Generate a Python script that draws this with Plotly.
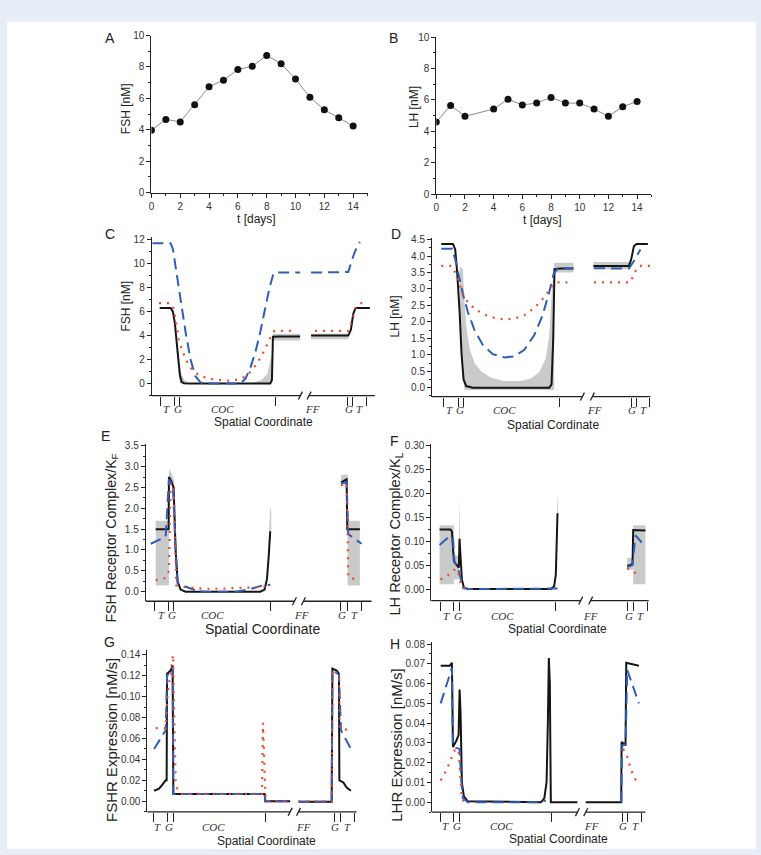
import plotly.graph_objects as go

FONT = "Arial, Liberation Sans, sans-serif"
SERIF = "Liberation Serif, Times New Roman, serif"
BLACK = "#151515"
BLUE = "#2f5db8"
RED = "#ee4a2c"
GRAY = "#c9cbcb"

# ---------------- data: panels A and B ----------------
A_t = list(range(15))
A_fsh = [3.97, 4.66, 4.5, 5.59, 6.74, 7.16, 7.84, 8.05, 8.74, 8.21, 7.23, 6.07, 5.27, 4.77, 4.24]
B_t = [0, 1, 2, 4, 5, 6, 7, 8, 9, 10, 11, 12, 13, 14]
B_lh = [4.59, 5.65, 4.96, 5.42, 6.05, 5.68, 5.8, 6.16, 5.8, 5.8, 5.42, 4.96, 5.57, 5.9]

region_names = ["T", "G", "COC", "FF", "G", "T"]

# ---------------- panel C (FSH) ----------------
C_ticks = [9, 23.3, 28, 124, 196.7, 201.3, 215.7]
C_label_s = [15, 26, 71.3, 161.3, 198, 209]
C_break = [149.3, 158]
C_black_s = [8, 19, 21.3, 23.3, 25, 26.7, 28.3, 30, 32.3, 37.3, 119, 120.7, 121.7, 127.3, 149, None,
             160, 197.3, 200, 202.3, 204.7, 219]
C_black_y = [6.3, 6.3, 6.0, 5.0, 3.5, 2.0, 0.7, 0.15, 0.02, 0, 0, 0.3, 3.9, 3.92, 3.92, None,
             4.0, 4.0, 4.5, 5.8, 6.3, 6.3]
C_blue_s = [0.7, 19, 21.3, 24.7, 29, 34, 39, 44, 49, 54, 89, 94, 99, 104, 109, 114, 118.3, 122.3, 127.3, 149, None,
            160, 197.3, 200.7, 204, 209]
C_blue_y = [11.7, 11.7, 11.2, 9.5, 7.0, 4.3, 2.0, 0.6, 0.1, 0, 0, 0.4, 1.3, 2.6, 4.3, 6.3, 8.0, 9.2, 9.25, 9.25, None,
            9.25, 9.3, 10.2, 11.0, 11.8]
C_red_s = [7.3, 19, 22.3, 24.7, 27.3, 31.3, 35.7, 40.7, 47.3, 55.7, 65.7, 77.3, 87.3, 94, 100.7, 107.3, 114, 119, 123.3, 142.3, None,
           164, 197.3, 201.3, 204.7, 209, 214]
C_red_y = [6.7, 6.7, 6.2, 4.8, 3.6, 2.6, 1.8, 1.15, 0.7, 0.45, 0.3, 0.25, 0.35, 0.6, 1.1, 1.9, 2.9, 3.8, 4.4, 4.4, None,
           4.4, 4.4, 5.3, 6.3, 6.7, 6.7]
C_bands = [
    ([28, 30, 33, 38], [0, 0, 0, 0], [1.5, 0.8, 0.3, 0.05]),
    ([100, 110, 116, 120.7], [0, 0, 0, 0], [0.05, 0.3, 0.8, 2.5]),
    ([121.7, 149], [3.6, 3.6], [4.15, 4.15]),
    ([160, 197.3], [3.7, 3.7], [4.15, 4.15]),
]

# ---------------- panel D (LH) ----------------
D_ticks = [12, 26.7, 31.3, 127.7, 200, 205.3, 218.7]
D_label_s = [17.7, 28, 72.7, 163.3, 201, 212.7]
D_break = [151, 161]
D_black_s = [9.3, 21, 23.3, 25.3, 27.7, 29.7, 31.7, 34.3, 41, 117.7, 120, 121.7, 123, 129.3, 142, None,
             162, 197.7, 200, 202.7, 205.3, 216.7]
D_black_y = [4.37, 4.37, 4.2, 3.5, 2.3, 1.0, 0.25, 0.05, 0.0, 0.0, 0.1, 1.5, 3.6, 3.62, 3.62, None,
             3.7, 3.7, 3.9, 4.3, 4.37, 4.37]
D_blue_s = [9.3, 20.3, 23.3, 26.7, 31, 36, 42.7, 51, 61, 72.7, 82.7, 92.7, 102.7, 111, 117.7, 122, 126, 142, None,
            162.7, 197.7, 202.7, 209.3]
D_blue_y = [4.22, 4.22, 3.9, 3.45, 2.85, 2.3, 1.75, 1.3, 1.02, 0.92, 0.95, 1.15, 1.6, 2.2, 2.9, 3.45, 3.62, 3.63, None,
            3.63, 3.62, 3.85, 4.2]
D_red_s = [9.3, 20, 23.3, 26.7, 31, 36, 42.7, 52.7, 62.7, 72.7, 82.7, 92.7, 102.7, 112.7, 119.3, 124.3, 142, None,
           162.7, 199.3, 203.3, 207.7, 219.3]
D_red_y = [3.7, 3.7, 3.5, 3.2, 2.85, 2.6, 2.4, 2.22, 2.12, 2.07, 2.1, 2.2, 2.42, 2.75, 3.05, 3.2, 3.2, None,
           3.2, 3.2, 3.5, 3.7, 3.7]
D_bands = [
    ([27.7, 29.7, 31, 32.7, 34.3, 37.7, 42.7, 49.3, 59.3, 72.7, 89.3, 99.3, 107.7, 114.3, 117.7, 120, 122.7],
     [2.3, 1.0, 0.3, -0.07, -0.07, -0.07, -0.07, -0.07, -0.07, -0.07, -0.07, -0.07, -0.07, -0.07, -0.07, -0.07, -0.07],
     [3.7, 3.65, 3.6, 2.6, 1.9, 1.2, 0.75, 0.5, 0.3, 0.2, 0.2, 0.28, 0.48, 0.9, 1.6, 2.8, 3.8]),
    ([122.7, 142], [3.5, 3.5], [3.8, 3.8]),
    ([162, 197.7], [3.6, 3.6], [3.82, 3.82]),
]

# ---------------- panel E (FSH receptor complex) ----------------
E_ticks = [9.3, 23.3, 28.3, 125, 196, 202.7, 216.7]
E_label_s = [16, 26, 66.7, 156.7, 196.7, 210]
E_break = [149.3, 158.3]
E_black_s = [10, 23, 23.3, 25.7, 28, 30, 32, 35, 40, 115, 119.3, 121.7, 123.3, 125, None,
             196, 201, 201.7, 202.3, 215]
E_black_y = [1.5, 1.5, 2.75, 2.65, 2.5, 1.0, 0.25, 0.05, 0.0, 0.0, 0.05, 0.3, 0.8, 1.45, None,
             2.62, 2.68, 2.7, 1.5, 1.5]
E_blue_s = [5, 10, 20, 23.3, 27.3, 30, 32, 36.7, 43.3, 51.7, 60, 90, 103.3, 113.3, 120, 125, None,
            196, 201.7, 203.3, 216.7]
E_blue_y = [1.15, 1.2, 1.32, 2.7, 2.55, 1.0, 0.2, 0.15, 0.1, 0.02, 0.0, 0.0, 0.05, 0.13, 0.17, 0.16, None,
            2.6, 2.62, 1.38, 1.15]
E_red_s = [10, 20, 23.3, 23.7, 25, 28, 29.3, 30.7, 36.7, 46.7, 56.7, 73.3, 90, 106.7, 123.3, None,
           196, 201.7, 202.7, 203.3, 210]
E_red_y = [0.27, 0.33, 0.5, 1.35, 2.6, 2.5, 1.0, 0.15, 0.12, 0.1, 0.07, 0.07, 0.08, 0.1, 0.13, None,
           2.55, 2.6, 1.45, 0.35, 0.3]
E_bands = [
    ([10, 23.3], [0.15, 0.15], [1.7, 1.7]),
    ([202.7, 215], [0.15, 0.15], [1.7, 1.7]),
    ([23.3, 25.7, 28.3], [2.6, 2.55, 2.4], [2.95, 2.85, 2.7]),
    ([123.3, 125, 126], [0.6, 1.3, 1.5], [1.2, 2.05, 1.9]),
    ([196, 202.7], [2.55, 2.6], [2.8, 2.82]),
]

# ---------------- panel F (LH receptor complex) ----------------
F_ticks = [9.3, 22.7, 28.3, 125, 196.7, 202.7, 216.7]
F_label_s = [15, 26.7, 71.7, 160, 198.3, 210]
F_break = [150, 160]
F_black_s = [8.3, 19.3, 20.7, 22, 22.7, 26.7, 27.7, 28.3, 29.3, 30.7, 32.7, 36.7, 120, 123.3, 125, 126.7, None,
             196.7, 202, 202.7, 215]
F_black_y = [0.124, 0.124, 0.12, 0.065, 0.058, 0.047, 0.045, 0.105, 0.07, 0.02, 0.003, 0.0, 0.0, 0.006, 0.03, 0.158, None,
             0.048, 0.052, 0.123, 0.122]
F_blue_s = [8.3, 18.3, 21.7, 23.3, 26.7, 29.3, 31.7, 36.7, 126.7, None, 196.7, 202, 205, 211.7]
F_blue_y = [0.092, 0.11, 0.108, 0.055, 0.045, 0.02, 0.003, 0.0, 0.001, None, 0.046, 0.05, 0.112, 0.096]
F_red_s = [9.3, 16, 22.7, 26.7, 28.3, 30.7, 35, None, 196.7, 202.3, 206.7]
F_red_y = [0.02, 0.027, 0.04, 0.04, 0.02, 0.003, 0.0, None, 0.043, 0.038, 0.03]
F_bands = [
    ([8.3, 22.7], [0.01, 0.01], [0.133, 0.133]),
    ([202.7, 215], [0.01, 0.01], [0.133, 0.133]),
    ([196.7, 202.7], [0.04, 0.04], [0.065, 0.065]),
    ([22.7, 27.7], [0.02, 0.02], [0.07, 0.07]),
    ([27.7, 28.3, 29.3], [0.05, 0.1, 0.05], [0.07, 0.19, 0.08]),
    ([125.5, 126.7, 127.3], [0.03, 0.15, 0.15], [0.08, 0.2, 0.17]),
]

# ---------------- panel G (FSHR expression) ----------------
G_ticks = [5.7, 20, 25.7, 118.3, 187.7, 194.3, 208.3]
G_label_s = [10, 21.7, 66.7, 156.7, 188.3, 201]
G_break = [143.3, 151.7]
G_black_s = [6.7, 11.7, 15, 18.3, 19.3, 19.7, 23.3, 25.3, 26, 117.7, 118.3, 143.3, None,
             151.7, 185, 185.7, 190, 192.3, 192.7, 196.7, 200, 204.3]
G_black_y = [0.01, 0.012, 0.016, 0.02, 0.02, 0.122, 0.125, 0.13, 0.007, 0.007, 0.0, 0.0, None,
             -0.0005, -0.0005, 0.127, 0.125, 0.122, 0.02, 0.018, 0.013, 0.01]
G_blue_s = [6.7, 18.3, 19.7, 25.3, 26, 117.7, 118.3, 143.3, None, 151.7, 185, 185.7, 192.3, 194.3, 204.3]
G_blue_y = [0.05, 0.068, 0.12, 0.128, 0.007, 0.007, 0.0, 0.0, None, -0.0005, -0.0005, 0.126, 0.121, 0.068, 0.05]
G_red_s = [8.3, 18.3, 20, 23.3, 25.7, 26.7, 28.3, 30, 33.3, 115, 116, 118.3, 119, 143.3, None,
           151.7, 185, 185.7, 192.3, 193, 199.3, 201.7]
G_red_y = [0.07, 0.07, 0.1, 0.125, 0.14, 0.09, 0.02, 0.012, 0.007, 0.007, 0.075, 0.012, 0.0, 0.0, None,
           0.0, 0.0, 0.126, 0.121, 0.07, 0.069, 0.068]

# ---------------- panel H (LHR expression) ----------------
H_ticks = [8.7, 22, 27.7, 120, 191, 196.7, 210]
H_label_s = [13.3, 24.7, 69.3, 160, 192, 204.3]
H_break = [146, 154.3]
H_black_s = [8.7, 17.7, 20, 21, 24.3, 26.7, 27.7, 28.7, 30, 32, 36, 109.3, 112.7, 115, 116.3, 117.3, 118.3, 119.3, 146, None,
             154.3, 190, 190.3, 194.3, 195, 199.3, 207.7]
H_black_y = [0.069, 0.069, 0.0705, 0.028, 0.031, 0.034, 0.057, 0.045, 0.01, 0.003, 0.0005, 0.0, 0.002, 0.01, 0.04, 0.073, 0.06, 0.0, 0.0, None,
             0.0, 0.0, 0.0305, 0.029, 0.0705, 0.07, 0.069]
H_blue_s = [8.7, 20, 21, 27.7, 29.3, 31, 36, 109.3, 114.3, None, 190, 191, 194.3, 196, 207.7]
H_blue_y = [0.05, 0.068, 0.028, 0.027, 0.012, 0.002, 0.0, 0.0, 0.001, None, 0.0, 0.029, 0.029, 0.067, 0.05]
H_red_s = [8.7, 14.3, 19.3, 23.3, 26.7, 28.7, 30, 32.7, None, 192, 196, 200, 204.7]
H_red_y = [0.011, 0.016, 0.022, 0.027, 0.026, 0.01, 0.002, 0.0, None, 0.027, 0.023, 0.016, 0.011]

# ---------------- layout geometry (pixels) ----------------
WIDTH, HEIGHT = 761, 855


def px(x):
    return x / WIDTH


def py(y):
    return 1 - y / HEIGHT


P = {
    "A": dict(x=(149, 366), y=(190, 31), xr=(0, 15), yr=(0, 10)),
    "B": dict(x=(435, 651), y=(191.7, 32.5), xr=(0, 15), yr=(0, 10)),
    "C": dict(x=(149.3, 373.3), y=(395.7, 235.2), xr=(0, 224), yr=(-1, 12.2), dt=2, mdt=1, fmt="d",
              ticks=C_ticks, labs=C_label_s, brk=C_break, laby=409, xt="Spatial Coordinate", xtpos=(262, 422), xts=12,
              yt="FSH [nM]", ytpos=(124, 305), yts=12, letter=(107, 232),
              black=(C_black_s, C_black_y), blue=(C_blue_s, C_blue_y), red=(C_red_s, C_red_y), bands=C_bands),
    "D": dict(x=(430.7, 650), y=(396.7, 236.0), xr=(0, 219.3), yr=(-0.27, 4.55), dt=0.5, mdt=0.25, fmt=".1f",
              ticks=D_ticks, labs=D_label_s, brk=D_break, laby=410.7, xt="Spatial Cordinate", xtpos=(552, 425), xts=12,
              yt="LH [nM]", ytpos=(393, 315), yts=12, letter=(395, 232),
              black=(D_black_s, D_black_y), blue=(D_blue_s, D_blue_y), red=(D_red_s, D_red_y), bands=D_bands),
    "E": dict(x=(143.3, 370), y=(604, 444.5), xr=(0, 226.7), yr=(-0.23, 3.55), dt=0.5, mdt=0.25, fmt=".1f",
              ticks=E_ticks, labs=E_label_s, brk=E_break, laby=618.3, xt="Spatial Coordinate", xtpos=(261, 632), xts=14,
              yt="FSH Receptor Complex/K<sub>F</sub>", ytpos=(109, 540), yts=14.2, letter=(103, 437),
              black=(E_black_s, E_black_y), blue=(E_blue_s, E_blue_y), red=(E_red_s, E_red_y), bands=E_bands),
    "F": dict(x=(430, 648.3), y=(603.3, 445), xr=(0, 218.3), yr=(-0.024, 0.302), dt=0.05, mdt=0.025, fmt=".2f",
              ticks=F_ticks, labs=F_label_s, brk=F_break, laby=619.3, xt="Spatial Coordinate", xtpos=(557, 632), xts=12,
              yt="LH Receptor Complex/K<sub>L</sub>", ytpos=(395, 536), yts=14.6, letter=(393, 442),
              black=(F_black_s, F_black_y), blue=(F_blue_s, F_blue_y), red=(F_red_s, F_red_y), bands=F_bands),
    "G": dict(x=(145, 355), y=(817.3, 653.1), xr=(0, 210), yr=(-0.0101, 0.145), dt=0.02, mdt=0.01, fmt=".2f",
              ticks=G_ticks, labs=G_label_s, brk=G_break, laby=832.7, xt="Spatial Coordinate", xtpos=(265, 846.5), xts=12,
              yt="FSHR Expression [nM/s]", ytpos=(109, 745), yts=15, letter=(107, 645),
              black=(G_black_s, G_black_y), blue=(G_blue_s, G_blue_y), red=(G_red_s, G_red_y), bands=[]),
    "H": dict(x=(430.7, 645), y=(817.7, 645.4), xr=(0, 214.3), yr=(-0.005, 0.081), dt=0.01, mdt=0.005, fmt=".2f",
              ticks=H_ticks, labs=H_label_s, brk=H_break, laby=831.7, xt="Spatial Coordinate", xtpos=(558, 845), xts=12,
              yt="LHR Expression [nM/s]", ytpos=(395, 750), yts=15, letter=(394, 647),
              black=(H_black_s, H_black_y), blue=(H_blue_s, H_blue_y), red=(H_red_s, H_red_y), bands=[]),
}

fig = go.Figure()
layout = dict(width=WIDTH, height=HEIGHT, margin=dict(l=0, r=0, t=0, b=0),
              paper_bgcolor="#e7eef7", plot_bgcolor="white", showlegend=False)
shapes = [dict(type="rect", xref="paper", yref="paper", x0=px(4), x1=px(756), y0=py(855), y1=py(17),
               fillcolor="white", line_width=0, layer="below")]
annotations = []


def text(x, y, s, size=12, angle=0, family=FONT, style="normal", xref="paper", color="#222"):
    annotations.append(dict(x=x if xref != "paper" else px(x), y=py(y), xref=xref, yref="paper", text=s,
                            showarrow=False, textangle=angle, xanchor="center", yanchor="middle",
                            font=dict(family=family, size=size, color=color, style=style)))


def base_axis():
    return dict(showgrid=False, zeroline=False, showline=True, linecolor="#222", linewidth=1,
                ticks="outside", ticklen=4, tickwidth=1, tickcolor="#222",
                tickfont=dict(family=FONT, size=10, color="#333"))


keys = ["A", "B", "C", "D", "E", "F", "G", "H"]
for i, k in enumerate(keys):
    n = "" if i == 0 else str(i + 1)
    p = P[k]
    xa = base_axis()
    ya = base_axis()
    xa.update(domain=[px(p["x"][0]), px(p["x"][1])], range=list(p["xr"]), anchor="y" + n)
    ya.update(domain=[py(p["y"][0]), py(p["y"][1])], range=list(p["yr"]), anchor="x" + n)
    if k in ("A", "B"):
        xa.update(dtick=2, tick0=0, minor=dict(dtick=1, ticks="outside", ticklen=2, tickcolor="#222"))
        ya.update(dtick=2, tick0=0, minor=dict(dtick=1, ticks="outside", ticklen=2, tickcolor="#222"))
        t, v = (A_t, A_fsh) if k == "A" else (B_t, B_lh)
        fig.add_trace(go.Scatter(x=t, y=v, mode="lines+markers", xaxis="x" + n, yaxis="y" + n,
                                 line=dict(color="#8a8a8a", width=1),
                                 marker=dict(color="#111", size=7)))
    else:
        ya.update(dtick=p["dt"], tick0=0, tickformat=p["fmt"],
                  minor=dict(dtick=p["mdt"], ticks="outside", ticklen=2, tickcolor="#222"))
        xa.update(showline=False, tickvals=p["ticks"], showticklabels=False, ticklen=9)
        for bs, blo, bhi in p["bands"]:
            fig.add_trace(go.Scatter(x=list(bs) + list(bs)[::-1], y=list(bhi) + list(blo)[::-1],
                                     fill="toself", fillcolor=GRAY, line=dict(width=0), mode="lines",
                                     xaxis="x" + n, yaxis="y" + n, hoverinfo="skip"))
        fig.add_trace(go.Scatter(x=p["black"][0], y=p["black"][1], mode="lines", xaxis="x" + n, yaxis="y" + n,
                                 line=dict(color=BLACK, width=2)))
        fig.add_trace(go.Scatter(x=p["blue"][0], y=p["blue"][1], mode="lines", xaxis="x" + n, yaxis="y" + n,
                                 line=dict(color=BLUE, width=2, dash="11px,6px")))
        fig.add_trace(go.Scatter(x=p["red"][0], y=p["red"][1], mode="lines", xaxis="x" + n, yaxis="y" + n,
                                 line=dict(color=RED, width=2.2, dash="2px,6px")))
        # broken x axis line
        x0p, x1p = p["x"]
        r0, r1 = p["xr"]

        def s2px(s):
            return x0p + (s - r0) / (r1 - r0) * (x1p - x0p)

        yb = p["y"][0]
        bs_, be_ = p["brk"]
        for a, b in ((r0, bs_), (be_, r1)):
            shapes.append(dict(type="line", xref="paper", yref="paper", x0=px(s2px(a)), x1=px(s2px(b)),
                               y0=py(yb), y1=py(yb), line=dict(color="#222", width=1.3)))
        for s in (bs_, be_):
            xp = s2px(s)
            shapes.append(dict(type="line", xref="paper", yref="paper", x0=px(xp - 2), x1=px(xp + 2),
                               y0=py(yb + 4), y1=py(yb - 4), line=dict(color="#222", width=1.3)))
        for s, lab in zip(p["labs"], region_names):
            text(s, p["laby"], lab, size=11, family=SERIF, style="italic", xref="x" + n, color="#333")
        text(p["xtpos"][0], p["xtpos"][1], p["xt"], size=p["xts"])
        text(p["ytpos"][0], p["ytpos"][1], p["yt"], size=p["yts"], angle=-90)
        text(p["letter"][0], p["letter"][1], k, size=14)
    layout["xaxis" + n] = xa
    layout["yaxis" + n] = ya

# panel A / B texts
text(107, 33, "A", size=14)
text(392, 33, "B", size=14)
text(123, 105, "FSH [nM]", size=12, angle=-90)
text(412, 103, "LH [nM]", size=12, angle=-90)
text(255, 217, "t [days]", size=12)
text(542, 218, "t [days]", size=12)

layout["shapes"] = shapes
layout["annotations"] = annotations
fig.update_layout(**layout)
fig.write_html("out.html")
